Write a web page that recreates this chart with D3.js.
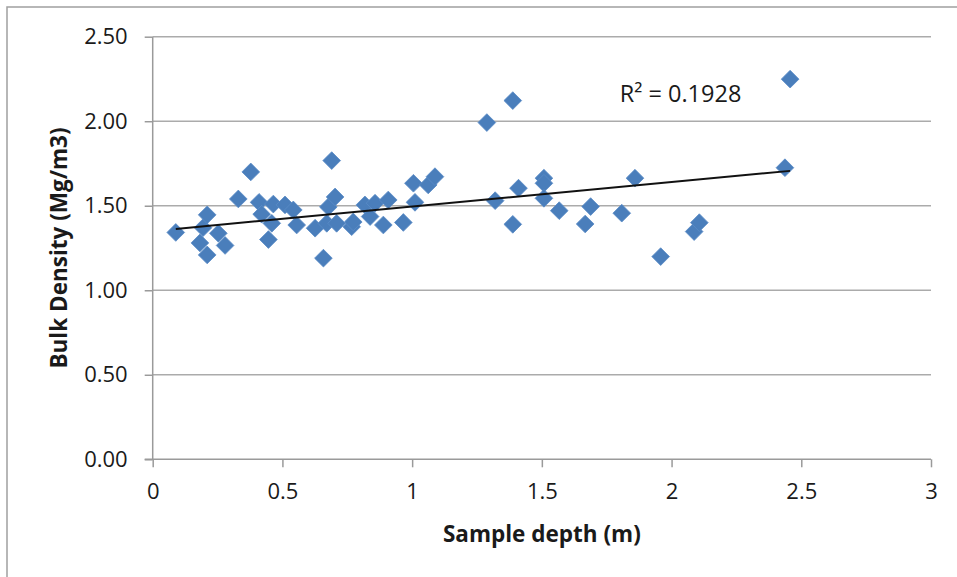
<!DOCTYPE html>
<html>
<head>
<meta charset="utf-8">
<script src="https://d3js.org/d3.v7.min.js"></script>
<style>
  body { margin: 0; background: #fff; }
  text { font-family: "Open Sans", sans-serif; fill: #1a1a1a; }
</style>
</head>
<body>
<div id="chart"></div>
<script>

// sample depth (m) and bulk density (Mg/m3)
var depth = [0.089, 0.182, 0.194, 0.21, 0.21, 0.253, 0.279,
  0.33, 0.378, 0.41, 0.42, 0.446, 0.459, 0.465, 0.51, 0.542, 0.555,
  0.626, 0.658, 0.671, 0.677, 0.69, 0.703, 0.709, 0.767, 0.773,
  0.818, 0.838, 0.857, 0.889, 0.908, 0.966, 1.005, 1.011, 1.062, 1.088,
  1.288, 1.32, 1.388, 1.388, 1.41, 1.508, 1.508, 1.508, 1.567, 1.667,
  1.688, 1.808, 1.859, 1.958, 2.087, 2.107, 2.437, 2.457];
var density = [1.342, 1.28, 1.37, 1.446, 1.209, 1.337, 1.265,
  1.54, 1.70, 1.52, 1.45, 1.30, 1.396, 1.51, 1.505, 1.475, 1.386,
  1.367, 1.19, 1.396, 1.493, 1.767, 1.552, 1.396, 1.376, 1.404,
  1.505, 1.436, 1.515, 1.386, 1.534, 1.401, 1.633, 1.52, 1.623, 1.672,
  1.992, 1.53, 2.122, 1.39, 1.604, 1.663, 1.633, 1.544, 1.471, 1.392,
  1.495, 1.456, 1.663, 1.199, 1.347, 1.40, 1.725, 2.249];

var xTicks = [0, 0.5, 1, 1.5, 2, 2.5, 3];
var yTicks = [0, 0.5, 1, 1.5, 2, 2.5];

// linear trendline as shown on the chart
var trendIntercept = 1.350;
var trendSlope = 0.145;
var rSquared = "0.1928";

var W = 957, H = 577;
var margin = {top: 36.7, right: 26, bottom: 117.7, left: 152.7};
var width = W - margin.left - margin.right,
    height = H - margin.top - margin.bottom;

var svg = d3.select("#chart")
  .append("svg")
    .attr("width", W)
    .attr("height", H);

// outer chart border
svg.append("rect")
  .attr("x", 7).attr("y", 7)
  .attr("width", W + 10).attr("height", H + 10)
  .attr("fill", "none")
  .attr("stroke", "#a0a0a0")
  .attr("stroke-width", 1.5);

var g = svg.append("g")
  .attr("transform", "translate(" + margin.left + "," + margin.top + ")");

var x = d3.scaleLinear().domain([0, 3]).range([0, width]);
var y = d3.scaleLinear().domain([0, 2.5]).range([height, 0]);

// gridlines
g.append("g")
  .selectAll("line")
  .data(yTicks.slice(1))
  .enter()
  .append("line")
    .attr("x1", 0)
    .attr("x2", width)
    .attr("y1", function(d) { return y(d); })
    .attr("y2", function(d) { return y(d); })
    .attr("stroke", "#ababab")
    .attr("stroke-width", 1.5);

var yAxis = g.append("g")
  .call(d3.axisLeft(y).tickValues(yTicks).tickSize(8).tickPadding(17)
    .tickFormat(d3.format(".2f")));

var xAxis = g.append("g")
  .attr("transform", "translate(0," + height + ")")
  .call(d3.axisBottom(x).tickValues(xTicks).tickSize(8).tickPadding(16)
    .tickFormat(function(d) { return String(d); }));

[xAxis, yAxis].forEach(function(a) {
  a.select(".domain").attr("stroke", "#9a9a9a").attr("stroke-width", 1.5);
  a.selectAll(".tick line").attr("stroke", "#9a9a9a").attr("stroke-width", 1.5);
  a.selectAll(".tick text")
    .style("font-family", "'Open Sans', sans-serif")
    .style("font-size", "22px")
    .attr("fill", "#1a1a1a");
});
// axisLeft draws domain with outer ticks; flatten them
yAxis.select(".domain").attr("d", "M0," + height + "V0");
xAxis.select(".domain").attr("d", "M-8,0H" + width);

// points
var pts = depth.map(function(d, i) { return {x: d, y: density[i]}; });
var diamond = d3.symbol().type(d3.symbolDiamond2).size(200);

g.append("g")
  .selectAll("path")
  .data(pts)
  .enter()
  .append("path")
    .attr("d", diamond)
    .attr("transform", function(d) { return "translate(" + x(d.x) + "," + y(d.y) + ")"; })
    .attr("fill", "#4a7ebb")
    .attr("stroke", "#5a8bc6")
    .attr("stroke-width", 0.8);

// trendline across the data range
var x0 = d3.min(depth), x1 = d3.max(depth);
g.append("line")
  .attr("x1", x(x0))
  .attr("y1", y(trendIntercept + trendSlope * x0))
  .attr("x2", x(x1))
  .attr("y2", y(trendIntercept + trendSlope * x1))
  .attr("stroke", "#111")
  .attr("stroke-width", 2);

g.append("text")
  .attr("x", x(1.8))
  .attr("y", y(2.114))
  .style("font-size", "23.5px")
  .text("R² = " + rSquared);

// axis titles
svg.append("text")
  .attr("transform", "rotate(-90)")
  .attr("x", -(margin.top + height / 2))
  .attr("y", 67)
  .attr("text-anchor", "middle")
  .style("font-size", "22.5px")
  .style("font-weight", "bold")
  .text("Bulk Density (Mg/m3)");

svg.append("text")
  .attr("x", margin.left + width / 2)
  .attr("y", 542)
  .attr("text-anchor", "middle")
  .style("font-size", "22.5px")
  .style("font-weight", "bold")
  .text("Sample depth (m)");

</script>
</body>
</html>
